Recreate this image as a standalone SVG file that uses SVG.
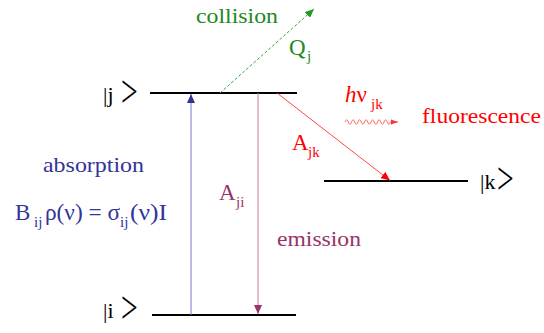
<svg xmlns="http://www.w3.org/2000/svg" width="544" height="333" viewBox="0 0 544 333">
<defs>
<marker id="hb" markerUnits="userSpaceOnUse" markerWidth="10" markerHeight="8" refX="9" refY="4" orient="auto"><path d="M0,0 L9,4 L0,8 z" fill="#333399"/></marker>
<marker id="hm" markerUnits="userSpaceOnUse" markerWidth="10" markerHeight="8" refX="9" refY="4" orient="auto"><path d="M0,0 L9,4 L0,8 z" fill="#993366"/></marker>
<marker id="hg" markerUnits="userSpaceOnUse" markerWidth="10" markerHeight="8" refX="9" refY="4" orient="auto"><path d="M0,0 L9,4 L0,8 z" fill="#229922"/></marker>
<marker id="hr" markerUnits="userSpaceOnUse" markerWidth="10" markerHeight="8" refX="9" refY="4" orient="auto"><path d="M0,0 L9,4 L0,8 z" fill="#ff0000"/></marker>
<marker id="hr2" markerUnits="userSpaceOnUse" markerWidth="8" markerHeight="6" refX="7" refY="3" orient="auto"><path d="M0,0.5 L7,3 L0,5.5 z" fill="#ff3333"/></marker>
</defs>

<g id="level-j">
<line x1="150" y1="93" x2="297" y2="93" stroke="#000" stroke-width="2"/>
<text font-family="Liberation Serif, serif" font-size="22" x="103" y="102">|j</text>
<text font-family="Liberation Serif, serif" font-size="22" transform="translate(121,96.5) scale(1.35,2.1)" x="0" y="4.8">&gt;</text>
</g>
<g id="level-i">
<line x1="152" y1="315" x2="296" y2="315" stroke="#000" stroke-width="2"/>
<text font-family="Liberation Serif, serif" font-size="22" x="103" y="318">|i</text>
<text font-family="Liberation Serif, serif" font-size="22" transform="translate(121,312.5) scale(1.35,2.1)" x="0" y="4.8">&gt;</text>
</g>
<g id="level-k">
<line x1="324" y1="181" x2="468" y2="181" stroke="#000" stroke-width="2"/>
<text font-family="Liberation Serif, serif" font-size="22" x="480" y="189">|k</text>
<text font-family="Liberation Serif, serif" font-size="22" transform="translate(497,183.5) scale(1.35,2.1)" x="0" y="4.8">&gt;</text>
</g>

<g id="connectors" fill="none">
<line x1="191" y1="315" x2="191" y2="94" stroke="#7777cc" stroke-width="1" marker-end="url(#hb)"/>
<line x1="258" y1="93" x2="258" y2="314" stroke="#c8799f" stroke-width="1" marker-end="url(#hm)"/>
<line x1="220" y1="93" x2="314" y2="9" stroke="#33aa33" stroke-width="1" stroke-dasharray="3,2" marker-end="url(#hg)"/>
<line x1="277" y1="93" x2="390" y2="180.5" stroke="#ff3333" stroke-width="0.9" marker-end="url(#hr)"/>
<path d="M345,122 q1.625,-4.5 3.25,0 t3.25,0 t3.25,0 t3.25,0 t3.25,0 t3.25,0 t3.25,0 t3.25,0 t3.25,0 t3.25,0 t3.25,0 t3.25,0 t3.25,0 t3.25,0 L398,122" stroke="#ff5555" stroke-width="0.9" marker-end="url(#hr2)"/>
</g>

<g id="label-collision" fill="#228822">
<text font-family="Liberation Serif, serif" font-size="21" x="196" y="23" textLength="82" lengthAdjust="spacingAndGlyphs">collision</text>
<text font-family="Liberation Serif, serif" font-size="23" x="289" y="55">Q<tspan font-size="15" x="307" y="61">j</tspan></text>
</g>
<g id="label-absorption" fill="#333399">
<text font-family="Liberation Serif, serif" font-size="21" x="43" y="172" textLength="101" lengthAdjust="spacingAndGlyphs">absorption</text>
<text font-family="Liberation Serif, serif" font-size="23" y="220"><tspan x="15">B</tspan><tspan font-size="15" x="34" y="227">ij</tspan><tspan x="45" y="220" textLength="75" lengthAdjust="spacingAndGlyphs">&#961;(&#957;) = &#963;</tspan><tspan font-size="15" x="120" y="227">ij</tspan><tspan x="130" y="220" textLength="37" lengthAdjust="spacingAndGlyphs">(&#957;)I</tspan></text>
</g>
<g id="label-emission" fill="#993366">
<text font-family="Liberation Serif, serif" font-size="23" x="219" y="200">A<tspan font-size="15" x="236" y="207">ji</tspan></text>
<text font-family="Liberation Serif, serif" font-size="21" x="277" y="246" textLength="84" lengthAdjust="spacingAndGlyphs">emission</text>
</g>
<g id="label-fluorescence" fill="#ff0000">
<text font-family="Liberation Serif, serif" font-size="23" x="345" y="102"><tspan font-style="italic">h</tspan>&#957;<tspan font-size="15" x="371" y="109">jk</tspan></text>
<text font-family="Liberation Serif, serif" font-size="21" x="422" y="123" textLength="119" lengthAdjust="spacingAndGlyphs">fluorescence</text>
<text font-family="Liberation Serif, serif" font-size="23" x="292" y="150">A<tspan font-size="15" x="308" y="157">jk</tspan></text>
</g>
</svg>
